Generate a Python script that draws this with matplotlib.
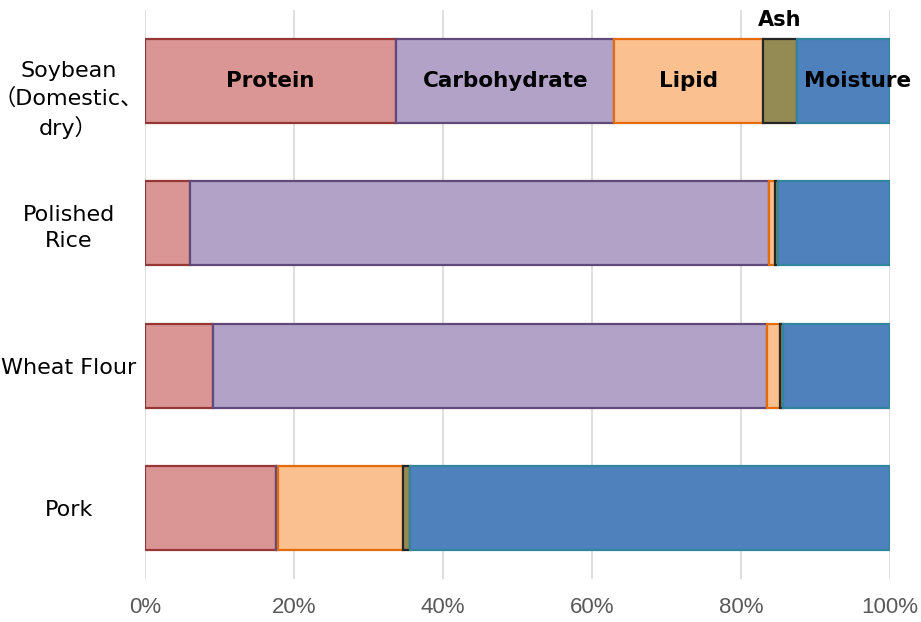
import numpy as np
import matplotlib
matplotlib.use("Agg")
import matplotlib.pyplot as plt
from matplotlib.ticker import FuncFormatter
from matplotlib.transforms import ScaledTranslation

# ---- data (percent of total weight) ----
foods = ["Soybean\n（Domestic、\ndry）", "Polished\nRice", "Wheat Flour", "Pork"]
components = ["Protein", "Carbohydrate", "Lipid", "Ash", "Moisture"]
protein = [33.7, 6.1, 9.1, 17.6]
carbohydrate = [29.3, 77.6, 74.4, 0.2]
lipid = [19.9, 0.9, 1.8, 16.8]
ash = [4.6, 0.4, 0.4, 1.0]
moisture = [12.5, 15.0, 14.3, 64.4]

fills = ["#D99694", "#B3A2C7", "#FAC090", "#948A54", "#4F81BD"]
edges = ["#953735", "#604A7B", "#E46C0A", "#262626", "#31859C"]

plt.rcParams['font.family'] = ['DejaVu Sans', 'Noto Sans CJK JP']

fig = plt.figure(figsize=(9.21, 6.22), dpi=100)
ax = fig.add_axes([145/921, 1-579/622, 745/921, 569/622])

series = [protein, carbohydrate, lipid, ash, moisture]
y = np.arange(len(foods))
left = np.zeros(len(foods))
for vals, fc, ec in zip(series, fills, edges):
    vals = np.array(vals)
    ax.barh(y, vals, left=left, height=0.59, color=fc, edgecolor=ec,
            linewidth=1.6, zorder=3)
    left += vals

# labels inside the soybean bar
starts = np.cumsum([0] + [s[0] for s in series[:-1]])
for i, name in enumerate(components):
    cx = starts[i] + series[i][0] / 2
    if name == "Ash":
        ax.text(cx, -0.43, name, ha="center", va="center", fontsize=15,
                fontweight="bold", zorder=5, clip_on=False)
    elif name == "Moisture":
        ax.text(cx + 1.9, 0, name, ha="center", va="center", fontsize=15.5,
                fontweight="bold", zorder=5, clip_on=False)
    else:
        ax.text(cx, 0, name, ha="center", va="center", fontsize=15.5,
                fontweight="bold", zorder=5)

ax.set_xlim(0, 100)
ax.set_ylim(3.5, -0.5)
ax.set_xticks(np.arange(0, 101, 20))
ax.xaxis.set_major_formatter(FuncFormatter(lambda v, p: f"{v:.0f}%"))
ax.set_yticks(y)
ax.set_yticklabels(foods, fontsize=16, ha="center", multialignment="center",
                   linespacing=1.38)
ax.tick_params(axis="y", length=0, pad=55, colors="black")
ax.tick_params(axis="x", length=0, pad=13, labelsize=16, labelcolor="#595959",
               labelfontfamily=["Liberation Sans Narrow", "Liberation Sans"])
# the three-line soybean label sits a little low in the original
lab0 = ax.get_yticklabels()[0]
lab0.set_transform(lab0.get_transform() + ScaledTranslation(0, -0.13, fig.dpi_scale_trans))
ax.grid(axis="x", color="#D9D9D9", linewidth=1.2, zorder=0)
for s in ax.spines.values():
    s.set_visible(False)

fig.savefig("out.png", dpi=100)
